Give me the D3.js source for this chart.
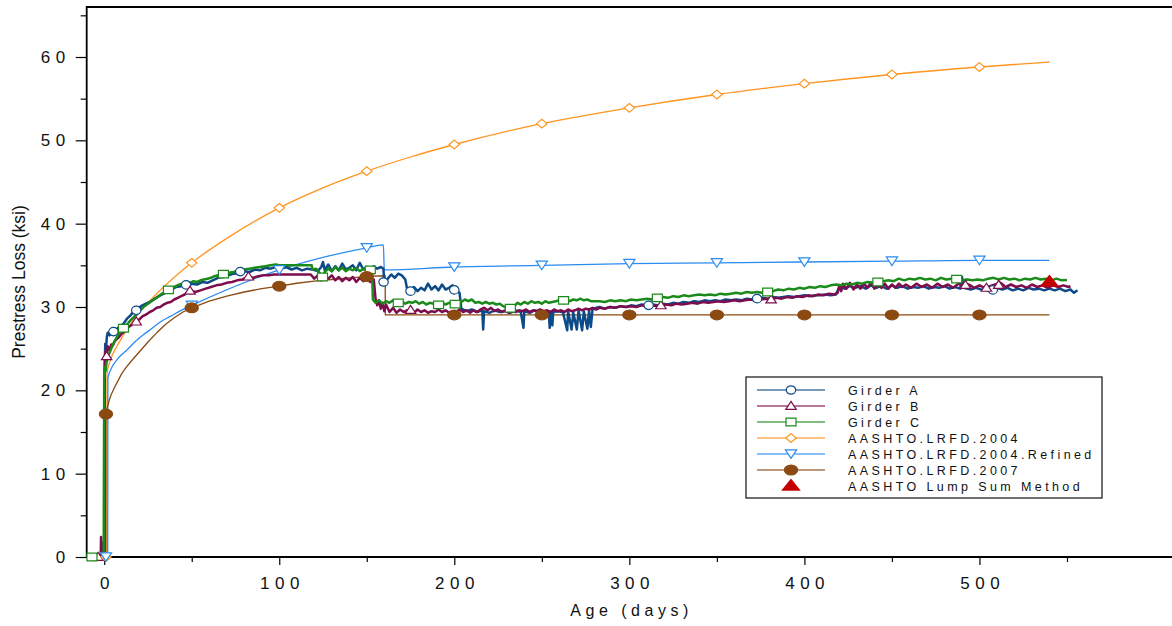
<!DOCTYPE html>
<html>
<head>
<meta charset="utf-8">
<script src="https://cdn.jsdelivr.net/npm/d3@7"></script>
<style>
  html, body { margin: 0; padding: 0; background: #ffffff; }
  svg { display: block; font-family: "Liberation Sans", Arial, sans-serif; }
</style>
</head>
<body>
<svg id="chart" width="1172" height="626"></svg>
<script>
// ---------------- data ----------------
const ageDomain = [-10, 610];
const lossDomain = [0, 66];
const xMajorTicks = [0, 100, 200, 300, 400, 500];
const xMinorTicks = [50, 150, 250, 350, 450, 550];
const yMajorTicks = [0, 10, 20, 30, 40, 50, 60];
const yMinorTicks = [5, 15, 25, 35, 45, 55, 65];
const xTitle = "Age (days)";
const yTitle = "Prestress Loss (ksi)";

const seriesNames = [
  "Girder A", "Girder B", "Girder C",
  "AASHTO.LRFD.2004", "AASHTO.LRFD.2004.Refined", "AASHTO.LRFD.2007",
  "AASHTO Lump Sum Method"
];

// measured losses, [age (days), loss (ksi)]
const girderA = [[-7,0],[-1,0],[-0.8,1.7],[-0.6,0],[0,0.5],[0.3,23],[0.6,25.6],[1,24.9],[1.5,26.4],[2,26.9],[3,26.6],[4,27.2],[5,27.0],[7,27.3],[9,27.7],[11,28.0],[13,28.6],[15,29.0],[17,29.5],[19,29.7],[21,30.1],[23,30.3],[26,30.6],[29,31.0],[32,31.4],[35,31.7],[38,32.0],[41,32.4],[44,32.5],[47,32.7],[50,32.8],[53,32.7],[56,33.0],[59,32.9],[62,33.2],[65,33.5],[68,33.6],[71,33.8],[74,34.0],[77,34.1],[80,34.3],[83,34.2],[86,34.5],[89,34.4],[92,34.7],[95,34.6],[98,34.8],[101,34.6],[104,34.8],[107,34.5],[110,34.7],[113,34.4],[116,34.6],[119,34.5],[122,34.3],[124,34.8],[125,35.4],[126,34.4],[128,35.1],[130,34.3],[132,34.9],[134,34.4],[136,35.2],[138,34.5],[140,34.7],[142,35.0],[144,34.4],[146,35.3],[148,34.5],[150,34.8],[152,34.6],[154,34.9],[156,34.6],[158,34.8],[159.5,34.6],[160,33.0],[162,33.4],[164,33.9],[166,33.5],[168,34.0],[170,33.8],[172,33.3],[173,32.2],[175,32.0],[177,32.4],[179,31.9],[181,32.3],[183,32.0],[185,32.8],[187,32.1],[189,32.5],[191,32.0],[193,32.7],[195,32.1],[197,32.3],[199,32.6],[201,32.0],[203,31.7],[204,29.8],[207,29.5],[210,29.7],[213,29.4],[216,29.6],[216.5,27.3],[217,29.5],[220,29.3],[223,29.6],[226,29.4],[229,29.5],[232,29.3],[235,29.6],[238,29.4],[239.5,27.5],[240,29.5],[243,29.3],[246,29.6],[249,29.4],[252,29.5],[254,29.3],[254.5,27.5],[255,29.4],[256,27.8],[256.5,29.4],[259,29.5],[262,29.4],[264.5,27.2],[265,29.5],[267,27.3],[268,29.3],[270,27.3],[271,29.6],[273,27.2],[274,29.5],[276,27.4],[277,29.6],[278,27.6],[279,29.8],[283,30.0],[286,29.8],[289,30.0],[292,29.9],[295,30.1],[298,30.0],[301,30.2],[304,30.1],[307,30.3],[310,30.2],[313,30.3],[316,30.2],[319,30.4],[322,30.3],[325,30.5],[328,30.4],[331,30.6],[334,30.5],[337,30.7],[340,30.6],[343,30.8],[346,30.7],[349,30.8],[352,30.7],[355,30.9],[358,30.8],[361,30.9],[364,30.8],[367,31.0],[370,30.9],[373,31.0],[376,31.1],[379,31.0],[382,31.2],[385,31.1],[388,31.2],[391,31.3],[394,31.2],[397,31.3],[400,31.4],[403,31.3],[406,31.4],[409,31.4],[412,31.5],[415,31.4],[418,31.5],[420,32.4],[423,32.2],[426,32.5],[429,32.3],[432,32.5],[435,32.2],[438,32.6],[441,32.3],[444,32.5],[447,32.2],[450,32.6],[453,32.3],[456,32.5],[459,32.2],[462,32.4],[465,32.3],[468,32.5],[471,32.2],[474,32.4],[477,32.3],[480,32.5],[483,32.2],[486,32.4],[489,32.2],[490,33.6],[491,32.3],[495,32.1],[498,32.3],[501,32.1],[504,32.0],[507,32.1],[510,32.3],[513,32.1],[516,32.3],[519,32.0],[522,32.2],[525,32.0],[528,32.3],[531,32.1],[534,32.2],[537,32.0],[540,32.2],[543,32.0],[546,32.2],[549,31.9],[552,32.1],[554,31.7],[556,32.0]];

const girderB = [[-7,0],[-3.5,0],[-2,0],[-1.8,2.4],[-1.5,0.2],[0,0.3],[0.3,22.5],[0.6,24.6],[1,23.6],[1.4,24.1],[2,25.3],[3,24.8],[4,25.5],[5,25.4],[6,25.9],[8,26.3],[10,26.8],[12,27.1],[14,27.6],[16,27.9],[18,28.25],[20,28.5],[22,28.9],[24,29.1],[26,29.4],[28,29.6],[30,29.9],[32,30.0],[34,30.3],[36,30.5],[38,30.6],[40,30.9],[42,31.1],[44,31.3],[46,31.5],[49,31.95],[52,31.8],[55,32.0],[58,32.2],[61,32.4],[64,32.6],[67,32.7],[70,32.9],[73,33.0],[76,33.2],[79,33.3],[82,33.6],[85,33.5],[88,33.7],[91,33.8],[94,33.8],[97,33.9],[100,33.9],[118,33.9],[120,33.4],[122,33.8],[124,33.2],[126,33.7],[128,33.4],[130,33.8],[132,33.2],[134,33.6],[136,33.1],[138,33.5],[140,33.2],[142,33.6],[144,33.0],[146,33.5],[148,33.1],[150,33.4],[152,33.0],[154,33.3],[155,31.0],[156,30.2],[157,30.8],[158,29.8],[159,30.5],[160,29.5],[161,30.3],[163,29.4],[165,29.9],[167,29.3],[169,29.7],[171,29.4],[173,29.6],[175,29.6],[177,29.3],[179,29.7],[181,29.4],[183,29.6],[185,29.3],[187,29.5],[189,29.4],[191,29.7],[193,29.4],[195,29.6],[197,29.3],[199,29.5],[201,29.4],[203,29.7],[205,29.4],[207,29.6],[209,29.3],[211,29.6],[213,29.4],[215,29.7],[217,29.9],[219,29.6],[221,29.9],[223,29.5],[225,29.7],[227,29.4],[229,29.6],[231,29.3],[233,29.5],[235,29.4],[237,29.6],[239,29.5],[241,29.7],[243,29.4],[245,29.6],[247,29.5],[249,29.7],[251,29.5],[253,29.6],[255,29.4],[257,29.7],[259,29.5],[261,29.6],[263,29.4],[265,29.7],[267,29.5],[269,29.6],[271,29.8],[273,29.6],[275,29.8],[277,29.7],[279,29.9],[281,29.7],[283,29.9],[286,29.8],[289,30.0],[292,29.9],[295,30.1],[298,30.0],[301,30.1],[304,30.0],[307,30.2],[310,30.1],[313,30.2],[316,30.1],[318,30.2],[321,30.3],[324,30.2],[327,30.4],[330,30.3],[333,30.4],[336,30.5],[339,30.4],[342,30.6],[345,30.5],[348,30.6],[351,30.7],[354,30.6],[357,30.7],[360,30.8],[363,30.7],[366,30.8],[369,30.9],[372,30.8],[375,30.9],[378,31.0],[381,30.9],[384,31.1],[387,31.0],[390,31.2],[393,31.1],[396,31.3],[399,31.2],[402,31.4],[405,31.3],[408,31.5],[411,31.4],[414,31.6],[417,31.5],[419,31.7],[420,32.6],[421,31.9],[422,32.8],[424,32.2],[426,32.9],[428,32.1],[430,32.7],[432,32.2],[434,32.8],[436,32.3],[438,32.9],[440,32.2],[442,32.7],[444,32.3],[446,32.8],[448,32.2],[450,32.7],[452,32.3],[454,32.8],[456,32.4],[458,32.7],[461,32.3],[464,32.8],[467,32.4],[470,32.7],[473,32.3],[476,32.8],[479,32.4],[482,32.7],[485,32.3],[488,32.8],[491,32.5],[494,32.7],[497,32.3],[500,32.6],[503,32.3],[506,32.5],[509,32.7],[512,32.9],[515,32.4],[518,32.7],[521,32.4],[524,32.6],[527,32.3],[530,32.7],[533,32.4],[536,32.6],[539,32.3],[542,32.6],[545,32.4],[548,32.6],[551,32.4],[552,32.5]];

const girderC = [[-7,0],[-1,0],[-0.3,0.2],[0,21.0],[0.4,22.8],[0.8,22.3],[1.3,23.3],[2,23.9],[3,24.5],[4,25.0],[5,25.5],[6,25.9],[7,26.3],[8,26.7],[9,27.0],[11,27.45],[13,27.9],[15,28.4],[17,28.8],[19,29.3],[21,29.7],[23,30.1],[25,30.4],[27,30.7],[29,31.0],[31,31.3],[33,31.6],[35,31.9],[37,32.05],[39,32.3],[41,32.5],[43,32.7],[45,32.8],[47,33.0],[49,32.9],[51,33.1],[53,33.0],[55,33.2],[57,33.3],[59,33.4],[61,33.5],[63,33.7],[65,33.8],[68,33.95],[71,34.1],[74,34.2],[77,34.4],[80,34.5],[83,34.6],[86,34.7],[89,34.8],[92,34.9],[95,35.0],[98,35.1],[100,35.0],[118.5,35.0],[119,34.5],[121,34.6],[123,34.1],[124.7,33.6],[126,34.2],[128,34.6],[130,34.3],[132,34.8],[134,34.4],[136,34.7],[138,34.3],[140,34.6],[142,34.4],[144,34.7],[146,34.3],[148,34.6],[150,34.4],[152,34.45],[153,34.3],[153.5,30.9],[155,30.5],[157,30.8],[159,30.4],[161,30.7],[163,30.5],[165,30.8],[168,30.5],[170,30.7],[172,30.4],[174,30.6],[176,30.5],[178,30.7],[180,30.4],[182,30.6],[184,30.3],[186,30.5],[188,30.4],[191,30.25],[193,30.5],[195,30.3],[197,30.5],[200,30.35],[202,30.5],[204,30.6],[206,30.9],[208,30.7],[210,30.9],[212,30.5],[214,30.6],[216,30.4],[218,30.6],[220,30.4],[222,30.5],[224,30.3],[226,30.4],[228,30.1],[230,29.9],[232,29.85],[234,30.0],[236,30.5],[238,30.3],[240,30.6],[242,30.4],[244,30.7],[246,30.5],[248,30.6],[250,30.4],[252,30.7],[254,30.5],[256,30.6],[258,30.7],[260,30.8],[262.4,30.8],[264,30.9],[266,30.7],[268,30.9],[270,30.8],[272,31.0],[274,30.8],[276,30.9],[278,30.7],[280,30.7],[283,30.7],[286,30.6],[289,30.8],[292,30.7],[295,30.8],[298,30.7],[301,30.9],[304,30.8],[307,30.9],[310,31.0],[313,30.9],[316,31.1],[319,31.2],[322,31.1],[325,31.3],[328,31.2],[331,31.4],[334,31.3],[337,31.4],[340,31.5],[343,31.4],[346,31.5],[349,31.4],[352,31.6],[355,31.5],[358,31.6],[361,31.7],[364,31.6],[367,31.8],[370,31.7],[373,31.8],[376,31.7],[379,31.8],[382,31.9],[385,32.1],[388,32.0],[391,32.2],[394,32.1],[397,32.3],[400,32.2],[403,32.4],[406,32.3],[409,32.5],[412,32.4],[415,32.6],[418,32.7],[421,32.6],[424,32.8],[427,32.7],[430,32.9],[433,32.8],[436,33.0],[439,32.9],[442,33.0],[445,33.1],[448,33.2],[451,33.1],[454,33.4],[457,33.2],[460,33.4],[463,33.3],[466,33.5],[469,33.3],[472,33.4],[475,33.2],[478,33.5],[481,33.3],[484,33.4],[487,33.35],[490,33.2],[493,33.3],[496,33.2],[499,33.3],[502,33.2],[505,33.4],[508,33.5],[511,33.3],[514,33.5],[517,33.3],[520,33.4],[523,33.2],[526,33.4],[529,33.3],[532,33.5],[535,33.3],[538,33.4],[541,33.2],[544,33.4],[547,33.2],[550,33.25]];

// predicted losses, [age (days), loss (ksi)]
const lrfd2004 = [[0,0],[1.5,0],[1.6,22.0],[3,23.3],[5,24.4],[7,25.2],[10,26.3],[14,27.6],[18,28.8],[25,30.5],[35,32.6],[50,35.3],[75,38.9],[100,41.9],[125,44.3],[150,46.3],[175,48.0],[200,49.5],[250,52.0],[300,53.9],[350,55.5],[400,56.8],[450,57.9],[500,58.8],[540,59.4]];
const lrfd2004Refined = [[1,0],[2,0.3],[2.1,21.45],[4,22.6],[7,23.6],[10,24.3],[13,24.85],[17,25.7],[22,26.6],[27,27.4],[32,28.2],[38,28.9],[44,29.6],[50,30.2],[100,34.45],[150,37.1],[159.5,37.45],[160,34.45],[200,34.8],[250,35.0],[300,35.2],[350,35.3],[400,35.4],[450,35.5],[500,35.6],[540,35.6]];
const lrfd2007 = [[0.9,0],[1,17.15],[2,18.1],[3,18.9],[4,19.5],[6,20.4],[8,21.2],[10,22.0],[12,22.6],[15,23.4],[20,24.6],[25,25.8],[30,26.9],[35,27.9],[40,28.7],[45,29.4],[50,29.9],[60,30.7],[70,31.3],[80,31.8],[90,32.2],[100,32.5],[110,32.85],[120,33.1],[130,33.3],[140,33.5],[150,33.65],[153,33.7],[160.5,33.75],[160.6,29.05],[540,29.05]];
const lumpSum = [[540,33.0]];

// marker positions along each series, [age (days), loss (ksi)]
const girderAMarks = [[5.3,27.05],[18.3,29.6],[46.8,32.65],[77.7,34.25],[159.6,33.0],[175,31.9],[200,32.05],[311,30.2],[373,31.0],[507.6,32.05]];
const girderBMarks = [[-3.5,0],[1.4,24.1],[18.3,28.25],[49,31.95],[82.4,33.65],[175,29.65],[318,30.2],[381,30.9],[492,32.65],[504,32.3],[511,32.65]];
const girderCMarks = [[-7,0],[11,27.45],[36.7,32.05],[68.1,33.95],[124.7,33.6],[152,34.45],[168,30.5],[191,30.25],[200.5,30.35],[232,29.85],[262.4,30.8],[316,31.1],[379,31.8],[442,33.0],[487,33.35]];
const lrfd2004Marks = [[1,0],[50,35.3],[100,41.9],[150,46.3],[200,49.5],[250,52.0],[300,53.9],[350,55.5],[400,56.8],[450,57.9],[500,58.8]];
const lrfd2004RefinedMarks = [[1,0],[50,30.2],[100,34.45],[150,37.1],[200,34.8],[250,35.0],[300,35.2],[350,35.3],[400,35.4],[450,35.5],[500,35.6]];
const lrfd2007Marks = [[1,17.15],[50,29.9],[100,32.5],[150,33.65],[200,29.05],[250,29.05],[300,29.05],[350,29.05],[400,29.05],[450,29.05],[500,29.05]];

// ---------------- layout & styles ----------------
const W = 1172, H = 626;
const plot = { left: 86.7, top: 7, right: 1172, bottom: 557 };

const x = d3.scaleLinear().domain(ageDomain).range([plot.left, plot.right]);
const y = d3.scaleLinear().domain(lossDomain).range([plot.bottom, plot.top]);

const markerShapes = {
  circle:   "M-4.7,0a4.7,4.2 0 1,0 9.4,0a4.7,4.2 0 1,0 -9.4,0Z",
  triUp:    "M0,-4.6L5.2,3.4L-5.2,3.4Z",
  square:   "M-5,-3.8H5V3.8H-5Z",
  diamond:  "M0,-4.4L5.2,0L0,4.4L-5.2,0Z",
  triDown:  "M-5.6,-4.2L5.6,-4.2L0,4.4Z",
  dot:      "M-6.6,0a6.6,4.9 0 1,0 13.2,0a6.6,4.9 0 1,0 -13.2,0Z",
  bigTri:   "M0,-7.4L9.8,4.8L-9.8,4.8Z"
};

const series = [
  { name: seriesNames[3], data: lrfd2004, marks: lrfd2004Marks, color: "#ff9420", width: 1.3, shape: "diamond", fill: "#ffffff", curve: d3.curveMonotoneX },
  { name: seriesNames[4], data: lrfd2004Refined, marks: lrfd2004RefinedMarks, color: "#2a8cf0", width: 1.3, shape: "triDown", fill: "#ffffff", curve: d3.curveMonotoneX },
  { name: seriesNames[5], data: lrfd2007, marks: lrfd2007Marks, color: "#8b4a12", width: 1.3, shape: "dot", fill: "#8b4a12", curve: d3.curveLinear },
  { name: seriesNames[0], data: girderA, marks: girderAMarks, color: "#0c4a88", width: 2.5, shape: "circle", fill: "#ffffff", curve: d3.curveLinear },
  { name: seriesNames[1], data: girderB, marks: girderBMarks, color: "#7d0d4c", width: 2.5, shape: "triUp", fill: "#ffffff", curve: d3.curveLinear },
  { name: seriesNames[2], data: girderC, marks: girderCMarks, color: "#1a8a1a", width: 2.5, shape: "square", fill: "#ffffff", curve: d3.curveLinear }
];
const lumpStyle = { name: seriesNames[6], color: "#c40000", shape: "bigTri" };

const svg = d3.select("#chart");

// ---------------- axes ----------------
const tickFont = 17, tickSpacing = 5.5;

const yAxisMajor = d3.axisLeft(y).tickValues(yMajorTicks).tickSize(11).tickPadding(10.5).tickFormat(d3.format("d"));
const yAxisMinor = d3.axisLeft(y).tickValues(yMinorTicks).tickSize(6).tickFormat("");
const xAxisMajor = d3.axisBottom(x).tickValues(xMajorTicks).tickSize(8).tickPadding(12).tickFormat(d3.format("d"));
const xAxisMinor = d3.axisBottom(x).tickValues(xMinorTicks).tickSize(5).tickFormat("");

function styleAxis(g) {
  g.select(".domain").remove();
  g.selectAll(".tick line").attr("stroke", "#000").attr("stroke-width", 1.2);
  g.selectAll(".tick text")
    .attr("fill", "#111")
    .style("font-family", "'Liberation Sans', Arial, sans-serif")
    .style("font-size", tickFont + "px")
    .style("letter-spacing", tickSpacing + "px");
}

svg.append("g").attr("transform", `translate(${plot.left},0)`).call(yAxisMajor).call(styleAxis)
  .selectAll(".tick text").attr("dx", tickSpacing);
svg.append("g").attr("transform", `translate(${plot.left},0)`).call(yAxisMinor).call(styleAxis);
svg.append("g").attr("transform", `translate(0,${plot.bottom})`).call(xAxisMajor).call(styleAxis)
  .selectAll(".tick text").attr("dx", tickSpacing / 2);
svg.append("g").attr("transform", `translate(0,${plot.bottom})`).call(xAxisMinor).call(styleAxis);

// frame
svg.append("path")
  .attr("d", `M${plot.right + 2},${plot.top}H${plot.left}V${plot.bottom}H${plot.right + 2}`)
  .attr("fill", "none").attr("stroke", "#000").attr("stroke-width", 1.8);

// axis titles
svg.append("text")
  .attr("x", (x(ageDomain[0]) + x(ageDomain[1])) / 2 + 2.2)
  .attr("y", 615.5)
  .attr("text-anchor", "middle")
  .style("font-size", "16px").style("letter-spacing", "4.5px")
  .attr("fill", "#111")
  .text(xTitle);

svg.append("text")
  .attr("transform", `translate(24.5,${(y(lossDomain[0]) + y(lossDomain[1])) / 2}) rotate(-90)`)
  .attr("text-anchor", "middle")
  .style("font-size", "17.5px")
  .attr("fill", "#111")
  .text(yTitle);

// ---------------- series ----------------
const lineGroup = svg.append("g");
series.forEach(s => {
  const line = d3.line().x(d => x(d[0])).y(d => y(d[1])).curve(s.curve);
  lineGroup.append("path")
    .datum(s.data)
    .attr("d", line)
    .attr("fill", "none")
    .attr("stroke", s.color)
    .attr("stroke-width", s.width)
    .attr("stroke-linejoin", "round");
});

const markGroup = svg.append("g");
series.slice(3).concat(series.slice(0, 3)).forEach(s => {
  markGroup.selectAll(null)
    .data(s.marks)
    .join("path")
    .attr("transform", d => `translate(${x(d[0])},${y(d[1])})`)
    .attr("d", markerShapes[s.shape])
    .attr("fill", s.fill)
    .attr("stroke", s.color)
    .attr("stroke-width", 1.2);
});

markGroup.selectAll(null)
  .data(lumpSum)
  .join("path")
  .attr("transform", d => `translate(${x(d[0])},${y(d[1])})`)
  .attr("d", markerShapes[lumpStyle.shape])
  .attr("fill", lumpStyle.color);

// ---------------- legend ----------------
const legend = svg.append("g").attr("transform", "translate(746,377)");
legend.append("rect")
  .attr("width", 356).attr("height", 121)
  .attr("fill", "#fff").attr("stroke", "#222").attr("stroke-width", 1.3);

const legendOrder = [series[3], series[4], series[5], series[0], series[1], series[2], lumpStyle];
legendOrder.forEach((s, i) => {
  const row = legend.append("g").attr("transform", `translate(0,${13 + i * 16})`);
  if (s !== lumpStyle) {
    row.append("line").attr("x1", 11).attr("x2", 79)
      .attr("stroke", s.color).attr("stroke-opacity", 0.75).attr("stroke-width", 1.6);
    row.append("path").attr("transform", "translate(45,0)")
      .attr("d", markerShapes[s.shape])
      .attr("fill", s.fill).attr("stroke", s.color).attr("stroke-width", 1.2);
  } else {
    row.append("path").attr("transform", "translate(45,0)")
      .attr("d", markerShapes[s.shape]).attr("fill", s.color);
  }
  row.append("text")
    .attr("x", 102).attr("y", 4.6)
    .style("font-size", "12.5px").style("letter-spacing", "3.4px")
    .attr("fill", "#111")
    .text(s.name);
});
</script>
</body>
</html>
